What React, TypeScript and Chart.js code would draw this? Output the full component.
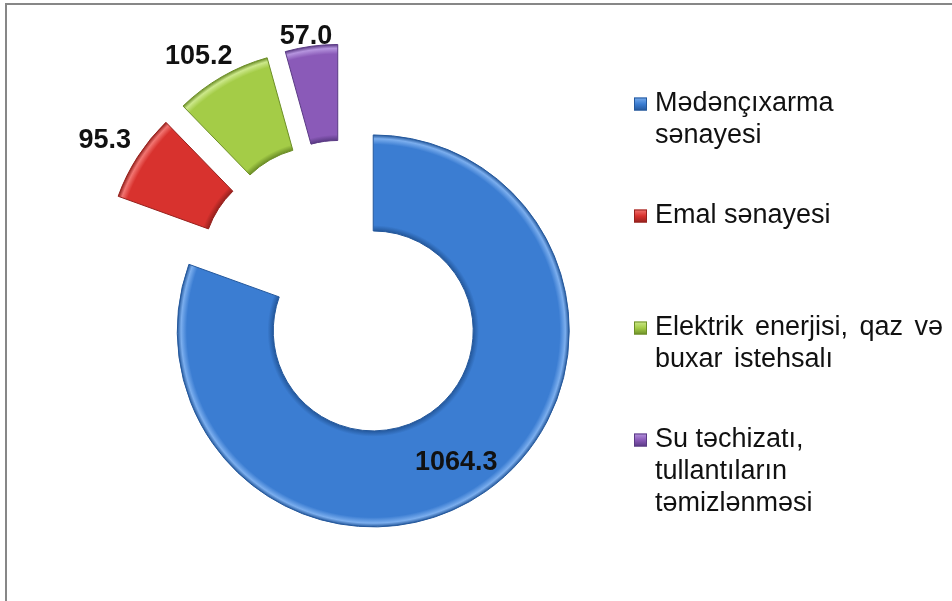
import React, { useEffect, useRef } from "react";
import { Chart, registerables } from "chart.js";

Chart.register(...registerables);

// ---- data ----
const categories: string[][] = [
  ["Mədənçıxarma", "sənayesi"],
  ["Emal sənayesi"],
  ["Elektrik enerjisi, qaz və", "buxar istehsalı"],
  ["Su təchizatı,", "tullantıların", "təmizlənməsi"],
];
const values: number[] = [1064.3, 95.3, 105.2, 57.0];

// ---- style ----
const baseColors = ["#3B7DD2", "#D8322E", "#A4CC47", "#8A5AB8"];
const lightColors = ["#7BAEEE", "#F27571", "#CCE88A", "#B594DE"];
const darkColors = ["#24589C", "#96211D", "#6C8E27", "#5A3A84"];

const W = 952;
const H = 601;
const OUTER_R = 196;
const CUTOUT_PCT = 51;
const EXPLODE_PX = 50;
const FONT = '"Liberation Sans", Arial, sans-serif';

function ringFill(i: number) {
  return (ctx: any) => {
    const chart = ctx.chart;
    const ca = chart.chartArea;
    if (!ca) return baseColors[i];
    const cx = (ca.left + ca.right) / 2;
    const cy = (ca.top + ca.bottom) / 2;
    const inner = (OUTER_R * CUTOUT_PCT) / 100;
    const g = chart.ctx.createRadialGradient(cx, cy, inner, cx, cy, OUTER_R);
    g.addColorStop(0, darkColors[i]);
    g.addColorStop(0.06, baseColors[i]);
    g.addColorStop(0.5, baseColors[i]);
    g.addColorStop(0.9, baseColors[i]);
    g.addColorStop(0.96, lightColors[i]);
    g.addColorStop(1, darkColors[i]);
    return g;
  };
}

// Chart.js grows exploded arcs' radii and trims their angles;
// undo both so every exploded ring keeps its true size and sweep.
const explodeFix = {
  id: "explodeFix",
  afterDatasetsUpdate(chart: any) {
    const meta = chart.getDatasetMeta(0);
    meta.data.forEach((el: any) => {
      const off = ((el.options && el.options.offset) || 0) / 4;
      const fix = 1 - Math.sin(Math.min(Math.PI, el.circumference || 0));
      const ro = off * fix;
      const outerDrawn = el.outerRadius;
      el.outerRadius -= ro;
      el.innerRadius -= ro;
      const loss = ro / (Math.PI * outerDrawn);
      el.startAngle -= loss / 2;
      el.endAngle += loss / 2;
    });
  },
};

const valueLabels = {
  id: "valueLabels",
  afterDatasetsDraw(chart: any) {
    const ctx = chart.ctx;
    const meta = chart.getDatasetMeta(0);
    ctx.save();
    ctx.font = `bold 27px ${FONT}`;
    ctx.fillStyle = "#111";
    ctx.textAlign = "center";
    ctx.textBaseline = "middle";
    const inner = (OUTER_R * CUTOUT_PCT) / 100;
    meta.data.forEach((el: any, i: number) => {
      const mid = (el.startAngle + el.endAngle) / 2;
      const off = ((el.options && el.options.offset) || 0) / 4;
      const dx = Math.cos(mid);
      const dy = Math.sin(mid);
      const acx = el.x + dx * off;
      const acy = el.y + dy * off;
      const text = values[i].toFixed(1);
      let x: number;
      let y: number;
      if (i === 0) {
        const ang = mid + 0.042;
        const dist = inner + 0.56 * (OUTER_R - inner);
        x = acx + Math.cos(ang) * dist;
        y = acy + Math.sin(ang) * dist;
      } else {
        const hw = ctx.measureText(text).width / 2;
        const hh = 11;
        const g = 13;
        x = acx + dx * (OUTER_R + g) + dx * hw;
        y = acy + dy * (OUTER_R + g) + Math.sign(dy) * hh;
        y = Math.max(y, 35);
      }
      ctx.fillText(text, x, y + 2);
    });
    ctx.restore();
  },
};

const sideLegend = {
  id: "sideLegend",
  afterDraw(chart: any) {
    const ctx = chart.ctx;
    ctx.save();
    ctx.font = `27px ${FONT}`;
    ctx.textBaseline = "middle";
    ctx.textAlign = "left";
    categories.forEach((lines, i) => {
      const y0 = 104 + i * 112;
      const g = ctx.createLinearGradient(0, y0 - 6.5, 0, y0 + 6.5);
      g.addColorStop(0, lightColors[i]);
      g.addColorStop(0.5, baseColors[i]);
      g.addColorStop(1, darkColors[i]);
      ctx.fillStyle = g;
      ctx.fillRect(634, y0 - 6.5, 13, 13);
      ctx.strokeStyle = darkColors[i];
      ctx.lineWidth = 1;
      ctx.strokeRect(634.5, y0 - 6, 12, 12);
      ctx.fillStyle = "#111";
      (ctx as any).wordSpacing = i === 2 ? "4px" : "0px";
      lines.forEach((line, j) => {
        ctx.fillText(line, 655, y0 + j * 32);
      });
    });
    ctx.restore();
  },
};

export default function App() {
  const ref = useRef<HTMLCanvasElement | null>(null);

  useEffect(() => {
    if (!ref.current) return;
    const chart = new Chart(ref.current, {
      type: "doughnut",
      data: {
        labels: categories.map((c) => c.join(" ")),
        datasets: [
          {
            data: values,
            backgroundColor: (ctx: any) => ringFill(ctx.dataIndex)(ctx),
            borderColor: darkColors,
            borderWidth: 1,
            offset: EXPLODE_PX * 4,
            hoverOffset: 0,
          },
        ],
      },
      options: {
        responsive: false,
        animation: false,
        events: [],
        radius: OUTER_R,
        cutout: `${CUTOUT_PCT}%`,
        layout: { padding: { left: 0, top: 0, right: 263, bottom: 21 } },
        plugins: {
          legend: { display: false },
          tooltip: { enabled: false },
          title: { display: false },
        },
      } as any,
      plugins: [explodeFix, valueLabels, sideLegend],
    });
    return () => chart.destroy();
  }, []);

  return (
    <div
      style={{
        position: "fixed",
        left: 0,
        top: 0,
        width: W,
        height: H,
        background: "#fff",
        overflow: "hidden",
      }}
    >
      <div
        style={{
          position: "absolute",
          left: 5,
          top: 3,
          right: 0,
          bottom: 0,
          borderTop: "2px solid #878787",
          borderLeft: "2px solid #878787",
        }}
      />
      <canvas
        ref={ref}
        width={W}
        height={H}
        style={{ position: "absolute", left: 0, top: 0 }}
      />
    </div>
  );
}
